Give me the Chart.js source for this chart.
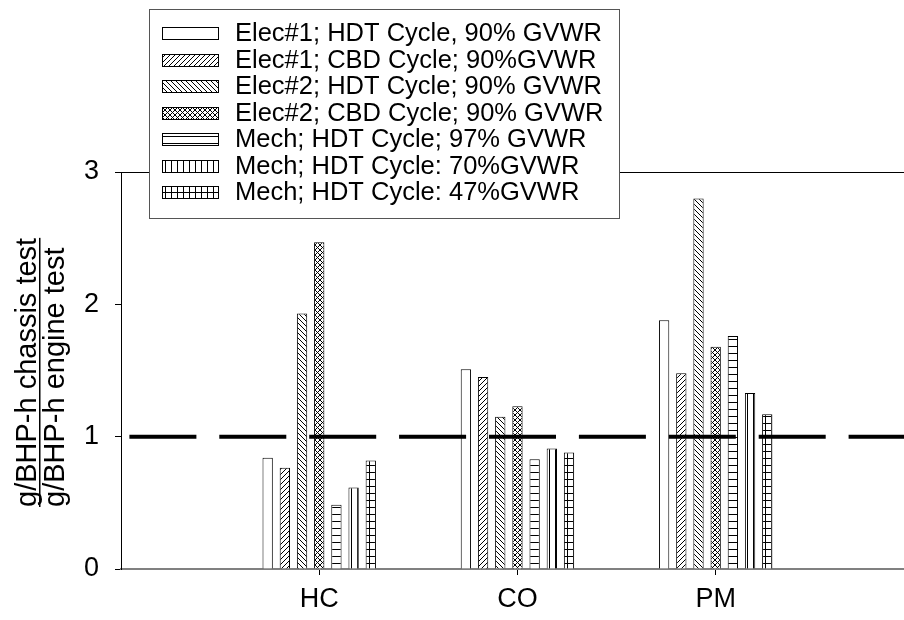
<!DOCTYPE html>
<html><head><meta charset="utf-8">
<script src="https://cdn.jsdelivr.net/npm/chart.js@4/dist/chart.umd.min.js"></script>
<style>html,body{margin:0;padding:0;background:#fff;overflow:hidden}canvas{display:block}</style>
</head><body>
<canvas id="c" width="904" height="620"></canvas>
<script>
// ---- data ----
const categories = ['HC', 'CO', 'PM'];
const seriesLabels = [
  'Elec#1; HDT Cycle, 90% GVWR',
  'Elec#1; CBD Cycle; 90%GVWR',
  'Elec#2; HDT Cycle; 90% GVWR',
  'Elec#2; CBD Cycle; 90% GVWR',
  'Mech; HDT Cycle; 97% GVWR',
  'Mech; HDT Cycle: 70%GVWR',
  'Mech; HDT Cycle: 47%GVWR'
];
const elec1HDT90 = [0.84, 1.51, 1.88];
const elec1CBD90 = [0.765, 1.45, 1.48];
const elec2HDT90 = [1.93, 1.15, 2.80];
const elec2CBD90 = [2.47, 1.23, 1.68];
const mechHDT97 = [0.485, 0.83, 1.76];
const mechHDT70 = [0.615, 0.91, 1.33];
const mechHDT47 = [0.82, 0.88, 1.17];
const referenceRatio = 1;
const yTickValues = [0, 1, 2, 3];
const yTitleLines = ['g/BHP-h chassis test', 'g/BHP-h engine test'];

const FONT = '"Liberation Sans", Arial, Helvetica, sans-serif';
const X_MAX = 3.95;

// ---- patterns ----
function makePattern(kind) {
  const c = document.createElement('canvas');
  let w = 5, h = 5;
  if (kind === 'horiz') { w = 6; h = 7; }
  if (kind === 'vert') { w = 6; h = 6; }
  if (kind === 'grid') { w = 6; h = 7; }
  c.width = w; c.height = h;
  const g = c.getContext('2d');
  g.fillStyle = '#fff'; g.fillRect(0, 0, w, h);
  g.strokeStyle = '#000'; g.fillStyle = '#000'; g.lineWidth = 1;
  const fwd = () => { g.beginPath(); g.moveTo(-1, h + 1); g.lineTo(w + 1, -1); g.moveTo(-1, 1); g.lineTo(1, -1); g.moveTo(w - 1, h + 1); g.lineTo(w + 1, h - 1); g.stroke(); };
  const back = () => { g.beginPath(); g.moveTo(-1, -1); g.lineTo(w + 1, h + 1); g.moveTo(w - 1, -1); g.lineTo(w + 1, 1); g.moveTo(-1, h - 1); g.lineTo(1, h + 1); g.stroke(); };
  if (kind === 'fwd') fwd();
  if (kind === 'back') back();
  if (kind === 'cross') { fwd(); back(); }
  if (kind === 'horiz' || kind === 'grid') g.fillRect(0, 3, w, 1);
  if (kind === 'vert' || kind === 'grid') g.fillRect(3, 0, 1, h);
  if (kind === 'plain') return '#ffffff';
  return g.createPattern ? document.getElementById('c').getContext('2d').createPattern(c, 'repeat') : '#fff';
}
const patternKinds = ['plain', 'fwd', 'back', 'cross', 'horiz', 'vert', 'grid'];
const seriesValues = [elec1HDT90, elec1CBD90, elec2HDT90, elec2CBD90, mechHDT97, mechHDT70, mechHDT47];

const barDatasets = seriesValues.map((vals, s) => ({
  type: 'bar',
  label: seriesLabels[s],
  data: categories.map((c, i) => ({ x: i + 1, y: vals[i] })),
  backgroundColor: makePattern(patternKinds[s]),
  borderColor: '#000',
  borderWidth: 1,
  categoryPercentage: 0.607,
  barPercentage: 0.6,
  order: 1
}));

const refDataset = {
  type: 'line',
  label: 'ref',
  data: [{ x: 0, y: referenceRatio }, { x: X_MAX, y: referenceRatio }],
  borderColor: '#000',
  borderWidth: 4,
  borderDash: [67, 22.9],
  borderDashOffset: 81.5,
  pointRadius: 0,
  fill: false,
  order: 0
};

const yTitlePlugin = {
  id: 'yTitle',
  afterDraw(chart) {
    const ctx = chart.ctx;
    ctx.save();
    ctx.fillStyle = '#000';
    ctx.font = '29px ' + FONT;
    ctx.textAlign = 'left';
    ctx.textBaseline = 'alphabetic';
    const baseY = 507;
    const xs = [36, 64];
    yTitleLines.forEach((t, i) => {
      ctx.save();
      ctx.translate(xs[i], baseY);
      ctx.rotate(-Math.PI / 2);
      ctx.fillText(t, 0, 0);
      if (i === 0) {
        const w = ctx.measureText(t).width;
        ctx.fillRect(0, 3, w, 1.5);
      }
      ctx.restore();
    });
    ctx.restore();
  }
};

const legendPlugin = {
  id: 'boxLegend',
  afterDraw(chart) {
    const ctx = chart.ctx;
    ctx.save();
    ctx.fillStyle = '#fff';
    ctx.fillRect(149, 9, 470, 209);
    ctx.strokeStyle = '#555';
    ctx.lineWidth = 1;
    ctx.strokeRect(149.5, 9.5, 470, 209);
    ctx.font = '25.5px ' + FONT;
    ctx.textBaseline = 'middle';
    ctx.textAlign = 'left';
    chart.data.datasets.filter(d => d.type === 'bar').forEach((ds, i) => {
      const cy = Math.round(33 + i * 26.5);
      ctx.fillStyle = ds.backgroundColor;
      ctx.fillRect(162, cy - 6, 57, 13);
      ctx.strokeStyle = '#000';
      ctx.strokeRect(162.5, cy - 5.5, 56, 12);
      ctx.fillStyle = '#000';
      ctx.fillText(ds.label, 235, cy + 1);
    });
    ctx.restore();
  }
};

new Chart(document.getElementById('c'), {
  data: { datasets: [...barDatasets, refDataset] },
  options: {
    responsive: false,
    animation: false,
    devicePixelRatio: 1,
    layout: { padding: { top: 172, left: 0, right: 0, bottom: 0 } },
    plugins: { legend: { display: false }, tooltip: { enabled: false } },
    scales: {
      x: {
        type: 'linear', min: 0, max: X_MAX, offset: false,
        afterBuildTicks: s => { s.ticks = categories.map((c, i) => ({ value: i + 1 })); },
        afterFit: s => { s.height = 51; },
        grid: { offset: false, drawOnChartArea: false, drawTicks: true, tickLength: 6, color: '#000', lineWidth: 1 },
        border: { color: '#808080', width: 2 },
        ticks: { callback: v => categories[v - 1] ?? '', font: { family: FONT, size: 27 }, color: '#000', padding: 8, maxRotation: 0, autoSkip: false }
      },
      y: {
        type: 'linear', min: 0, max: 3,
        afterBuildTicks: s => { s.ticks = yTickValues.map(v => ({ value: v })); },
        afterFit: s => { s.width = 121; },
        grid: { drawOnChartArea: true, color: c => (c.tick && c.tick.value === 3) ? '#000' : 'rgba(0,0,0,0)', tickColor: '#000', tickLength: 6, lineWidth: 1 },
        border: { color: '#000', width: 1 },
        ticks: { font: { family: FONT, size: 27 }, color: '#000', padding: 16 }
      }
    }
  },
  plugins: [yTitlePlugin, legendPlugin]
});
</script>
</body></html>
